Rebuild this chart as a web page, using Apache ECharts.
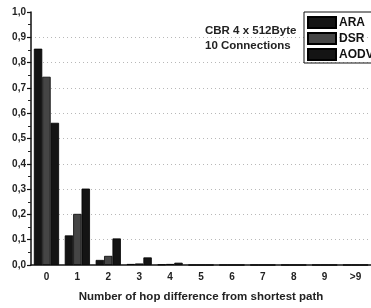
<!DOCTYPE html>
<html><head><meta charset="utf-8">
<script src="https://cdn.jsdelivr.net/npm/echarts@6/dist/echarts.min.js"></script>
<style>html,body{margin:0;padding:0;background:#fff}#c{width:371px;height:308px}</style>
</head><body><div id="c"></div>
<script>
const categories = ['0','1','2','3','4','5','6','7','8','9','>9'];
const araValues  = [0.855, 0.117, 0.020, 0.004, 0.002, 0, 0, 0, 0, 0, 0];
const dsrValues  = [0.744, 0.202, 0.036, 0.006, 0.004, 0, 0, 0, 0, 0, 0];
const aodvValues = [0.562, 0.302, 0.105, 0.030, 0.009, 0, 0, 0, 0, 0, 0];
const seriesNames = ['ARA','DSR','AODV'];
const yTicks = [0,0.1,0.2,0.3,0.4,0.5,0.6,0.7,0.8,0.9,1.0];
const annotation = ['CBR 4 x 512Byte','10 Connections'];

const chart = echarts.init(document.getElementById('c'));
const font = 'Liberation Sans, Arial, sans-serif';
const colors = ['#141414','#454545','#141414'];
const splitColors = yTicks.map((v,i)=> (i===0||i===yTicks.length-1)?'rgba(0,0,0,0)':'#b8b8b8');
function bar(name, data, c){
  return {name, type:'bar', data, barWidth:8.4, barGap:'0%',
    itemStyle:{color:c, borderColor:'#000', borderWidth:0.8}};
}
chart.setOption({
  animation:false,
  grid:{left:31, top:12, width:346, height:255},
  legend:{orient:'vertical', left:304, top:12, itemWidth:28, itemHeight:11, itemGap:3,
    padding:[4,40,2,3], borderColor:'#111', borderWidth:1, icon:'rect',
    textStyle:{fontFamily:font, fontWeight:'bold', fontSize:12, color:'#111', lineHeight:13, padding:[0,0,0,-2]},
    data:seriesNames},
  xAxis:[{type:'category', data:categories,
    axisLine:{lineStyle:{color:'#111', width:1.5}},
    axisTick:{alignWithLabel:true, length:5, lineStyle:{color:'#111', width:1.2}},
    axisLabel:{fontFamily:font, fontWeight:'bold', fontSize:10, color:'#222', margin:7},
    name:'Number of hop difference from shortest path', nameLocation:'middle', nameGap:26,
    nameTextStyle:{fontFamily:font, fontWeight:'bold', fontSize:11.5, color:'#222'}},
   {type:'category', data:categories, position:'bottom',
    axisLine:{show:false}, axisLabel:{show:false},
    axisTick:{length:3, lineStyle:{color:'#222', width:1}}}],
  yAxis:{type:'value', min:0, max:1, interval:0.1,
    axisLine:{show:true, lineStyle:{color:'#111', width:1.5}},
    axisTick:{show:true, length:4, lineStyle:{color:'#111', width:1.2}},
    minorTick:{show:true, splitNumber:2, length:3, lineStyle:{color:'#222'}},
    axisLabel:{fontFamily:font, fontWeight:'bold', fontSize:10, color:'#222', margin:5,
      formatter:v=>v.toFixed(1).replace('.',',')},
    splitLine:{show:true, lineStyle:{type:[1,3], color:splitColors, width:1}}},
  graphic:[{type:'text', left:205, top:23, style:{text:annotation.join('\n'), fontFamily:font,
    fontWeight:'bold', fontSize:11.5, fill:'#222', lineHeight:15}}],
  series:[bar(seriesNames[0], araValues, colors[0]), bar(seriesNames[1], dsrValues, colors[1]), bar(seriesNames[2], aodvValues, colors[2])]
});
</script></body></html>
